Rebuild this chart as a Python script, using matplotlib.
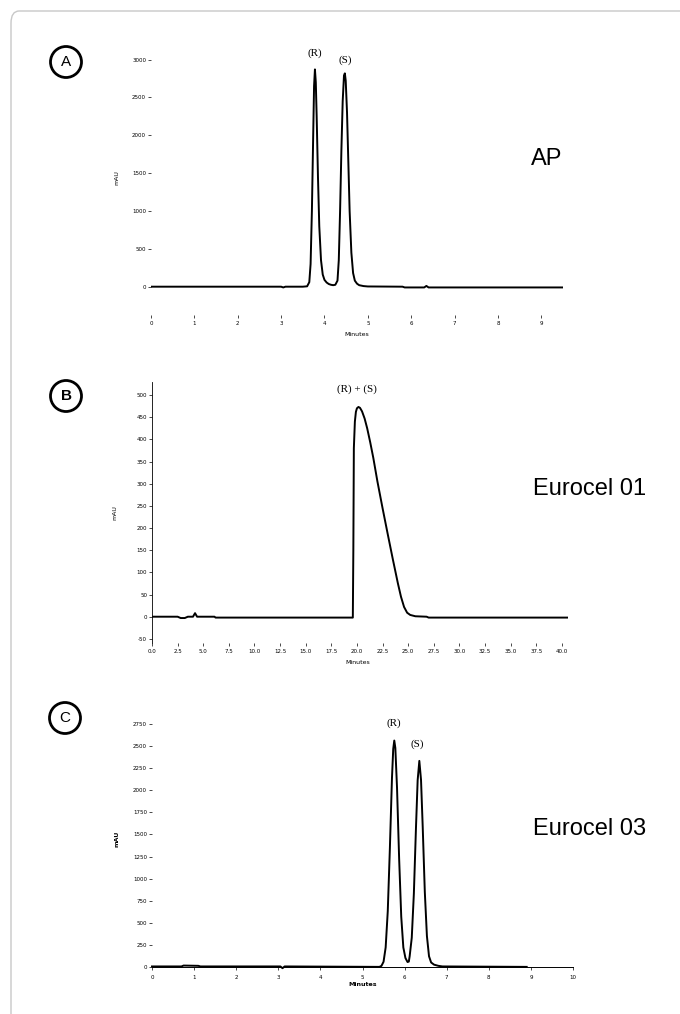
import matplotlib
matplotlib.use("Agg")
import matplotlib.pyplot as plt
from matplotlib.patches import FancyBboxPatch, Circle

# ---------------- data ----------------
# Panel A : AP column
a_time = [0.0, 1.0, 2.0, 3.0, 3.05, 3.1, 3.5, 3.6, 3.65, 3.68, 3.71, 3.74, 3.76, 3.78,
          3.80, 3.82, 3.85, 3.88, 3.92, 3.96, 4.00, 4.05, 4.10, 4.15, 4.20, 4.25,
          4.30, 4.33, 4.36, 4.39, 4.42, 4.45, 4.47, 4.49, 4.52, 4.55, 4.58, 4.62,
          4.66, 4.70, 4.75, 4.80, 4.90, 5.00, 5.80, 5.85, 6.30, 6.35, 6.40, 7.0,
          8.0, 9.0, 9.5]
a_mau = [0, 0, 0, 0, -10, 0, 0, 5, 60, 300, 1000, 2000, 2650, 2870,
         2700, 2250, 1450, 800, 350, 160, 90, 55, 35, 25, 20, 25,
         80, 350, 1000, 1800, 2450, 2790, 2818, 2720, 2300, 1650, 1000, 450,
         180, 80, 40, 20, 8, 3, 0, -10, -10, 10, -10, -10,
         -10, -10, -10]

# Panel B : Eurocel 01
b_time = [0.0, 2.5, 2.8, 3.2, 3.5, 4.0, 4.2, 4.4, 6.1, 6.2, 19.6, 19.65, 19.7,
          19.8, 19.9, 20.0, 20.15, 20.3, 20.5, 20.75, 21.0, 21.3, 21.6, 22.0,
          22.5, 23.0, 23.5, 24.0, 24.3, 24.6, 24.9, 25.2, 25.7, 26.8, 27.0, 40.6]
b_mau = [0, 0, -3, -3, 0, 0, 8, 0, 0, -2, -2, 150, 380,
         440, 462, 470, 473, 471, 463, 447, 425, 393, 358, 305,
         245, 187, 130, 75, 45, 22, 9, 4, 1, 0, -2, -2]

# Panel C : Eurocel 03
c_time = [0.0, 0.7, 0.75, 1.1, 1.15, 3.05, 3.1, 3.15, 5.4, 5.45, 5.50, 5.55,
          5.60, 5.65, 5.70, 5.73, 5.755, 5.78, 5.82, 5.87, 5.92, 5.97, 6.02,
          6.07, 6.10, 6.12, 6.17, 6.22, 6.27, 6.31, 6.35, 6.39, 6.43, 6.48,
          6.53, 6.58, 6.63, 6.70, 6.80, 6.90, 8.9]
c_mau = [5, 5, 15, 12, 5, 5, -15, 5, 0, 11, 58, 220,
         630, 1340, 2140, 2470, 2565, 2480, 2030, 1230, 570, 220, 100,
         55, 60, 120, 330, 830, 1575, 2115, 2334, 2120, 1590, 850,
         350, 120, 50, 25, 12, 5, 0]

a_xticks = list(range(0, 10))
a_yticks = [0, 500, 1000, 1500, 2000, 2500, 3000]
b_xticks = [0.0, 2.5, 5.0, 7.5, 10.0, 12.5, 15.0, 17.5, 20.0, 22.5, 25.0,
            27.5, 30.0, 32.5, 35.0, 37.5, 40.0]
b_yticks = [-50, 0, 50, 100, 150, 200, 250, 300, 350, 400, 450, 500]
c_xticks = list(range(0, 11))
c_yticks = [0, 250, 500, 750, 1000, 1250, 1500, 1750, 2000, 2250, 2500, 2750]

panel_letters = ["A", "B", "C"]
column_names = ["AP", "Eurocel 01", "Eurocel 03"]

# ---------------- figure ----------------
W, H = 680, 1014
fig = plt.figure(figsize=(W / 100, H / 100), dpi=100)
fig.patch.set_facecolor("white")


def px_axes(left, top, right, bottom):
    return fig.add_axes([left / W, 1 - bottom / H, (right - left) / W, (bottom - top) / H])


def fx(x):
    return x / W


def fy(y):
    return 1 - y / H


# outer rounded frame
frame = FancyBboxPatch((fx(11), fy(1040)), fx(720) - fx(11), fy(11) - fy(1040),
                       boxstyle="round,pad=0,rounding_size=0.012",
                       transform=fig.transFigure, facecolor="none",
                       edgecolor="#c8c8c8", linewidth=1.0, zorder=0)
fig.patches.append(frame)

LW = 1.4

def style(ax):
    for s in ax.spines.values():
        s.set_visible(False)
    ax.tick_params(axis="both", which="both", direction="out", length=2,
                   width=0.5, labelsize=4, pad=1.5, colors="black")
    ax.patch.set_alpha(0)

# ---- Panel A ----
axA = px_axes(151, 52, 563, 315)
axA.plot(a_time, a_mau, color="black", lw=LW, solid_joinstyle="round")
axA.set_xlim(0, 9.5)
axA.set_ylim(-374, 3100)
style(axA)
axA.set_xticks(a_xticks)
axA.set_xticklabels([str(v) for v in a_xticks])
axA.set_yticks(a_yticks)
axA.set_yticklabels([str(v) for v in a_yticks])
axA.tick_params(axis="x", pad=2)
axA.text(3.78, 3086, "(R)", family="Liberation Serif", fontsize=8,
         ha="center", va="center", clip_on=False)
axA.text(4.47, 2993, "(S)", family="Liberation Serif", fontsize=8,
         ha="center", va="center", clip_on=False)
fig.text(fx(357), fy(334), "Minutes", fontsize=4.5, ha="center", va="center")
fig.text(fx(117), fy(178), "mAU", fontsize=4.5, rotation=90, ha="center", va="center")

# ---- Panel B ----
axB = px_axes(152, 382, 568, 643)
axB.plot(b_time, b_mau, color="black", lw=LW, solid_joinstyle="round")
axB.set_xlim(0, 40.6)
axB.set_ylim(-59.3, 529.3)
style(axB)
axB.spines["left"].set_visible(True)
axB.spines["left"].set_linewidth(0.6)
axB.set_xticks(b_xticks)
axB.set_xticklabels([f"{v:.1f}" for v in b_xticks])
axB.set_yticks(b_yticks)
axB.set_yticklabels([str(v) for v in b_yticks])
axB.tick_params(axis="x", pad=2)
axB.text(20.0, 513.5, "(R) + (S)", family="Liberation Serif", fontsize=8,
         ha="center", va="center", clip_on=False)
fig.text(fx(358), fy(663), "Minutes", fontsize=4.5, ha="center", va="center")
fig.text(fx(115), fy(513), "mAU", fontsize=4.5, rotation=90, ha="center", va="center")

# ---- Panel C ----
axC = px_axes(152, 715, 573, 975)
axC.plot(c_time, c_mau, color="black", lw=LW, solid_joinstyle="round", clip_on=False)
axC.set_xlim(0, 10)
axC.set_ylim(-92, 2854)
style(axC)
axC.spines["bottom"].set_visible(True)
axC.spines["bottom"].set_position(("data", 0))
axC.spines["bottom"].set_linewidth(0.7)
axC.set_xticks(c_xticks)
axC.set_xticklabels([str(v) for v in c_xticks])
axC.set_yticks(c_yticks)
axC.set_yticklabels([str(v) for v in c_yticks])
axC.tick_params(axis="x", length=2.5, pad=3.5)
axC.text(5.75, 2761, "(R)", family="Liberation Serif", fontsize=8,
         ha="center", va="center", clip_on=False)
axC.text(6.31, 2519, "(S)", family="Liberation Serif", fontsize=8,
         ha="center", va="center", clip_on=False)
fig.text(fx(363), fy(985), "Minutes", fontsize=4.5, fontweight="bold",
         ha="center", va="center")
fig.text(fx(117), fy(839), "mAU", fontsize=4.5, fontweight="bold", rotation=90,
         ha="center", va="center")

# ---- panel letters in circles ----
circle_centers = [(66, 62), (66, 396), (65, 718)]
for letter, (cx, cy) in zip(panel_letters, circle_centers):
    circ = Circle((cx, H - cy), 15.5, transform=None, facecolor="none",
                  edgecolor="black", linewidth=2.0)
    fig.patches.append(circ)
    fig.text(fx(cx), fy(cy), letter, family="Liberation Sans", fontsize=11,
             fontweight="bold" if letter == "B" else "normal",
             ha="center", va="center")

# ---- column names ----
name_pos = [(531, 159), (533, 489), (533, 829)]
for name, (nx, ny) in zip(column_names, name_pos):
    fig.text(fx(nx), fy(ny), name, family="Liberation Sans", fontsize=17,
             ha="left", va="center")

fig.savefig("out.png", dpi=100)
